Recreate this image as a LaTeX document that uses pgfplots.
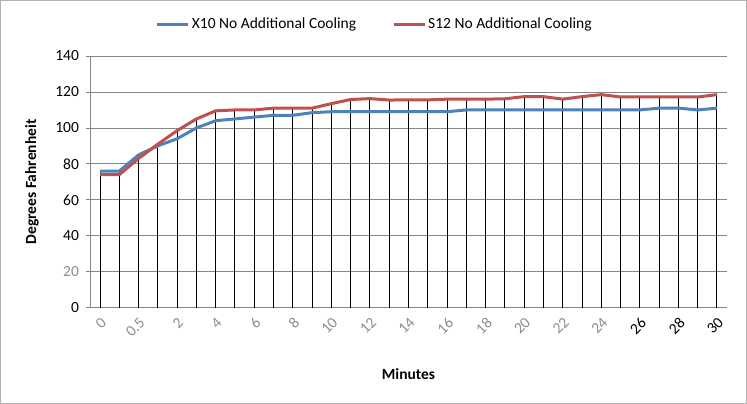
\documentclass[border=0pt]{standalone}
\usepackage{pgfplots}
\pgfplotsset{compat=1.18}
\usepackage{pgfplotstable}
\usepackage{fontspec}
\setmainfont{Carlito}
\definecolor{xblue}{HTML}{4F81BD}
\definecolor{sred}{HTML}{C0504D}
\definecolor{gridgray}{HTML}{868686}
\definecolor{lblgray}{HTML}{8C8C8C}
\newcommand\fs{\fontsize{15.5}{18}\selectfont}
\pgfplotstableread{
idx minute x10 s12
0 0 76 74
1 0.25 76 74
2 0.5 85 83
3 1 90 91
4 2 94 98.5
5 3 100 105
6 4 104 109.5
7 5 105 110
8 6 106 110
9 7 107 111
10 8 107 111
11 9 108.5 111
12 10 109 113.5
13 11 109 115.8
14 12 109 116.3
15 13 109 115.5
16 14 109 115.6
17 15 109 115.6
18 16 109 116
19 17 110 116
20 18 110 116
21 19 110 116.2
22 20 110 117.4
23 21 110 117.4
24 22 110 116
25 23 110 117.4
26 24 110 118.5
27 25 110 117.2
28 26 110 117.2
29 27 111 117.2
30 28 111 117.2
31 29 110 117.2
32 30 111 118.5
}\datatable
\begin{document}
\begin{tikzpicture}[x=1pt,y=1pt]
\useasboundingbox (0,0) rectangle (747,404);
\draw[gray!60, line width=1pt] (0.5,0.5) rectangle (746.5,403.5);
\begin{axis}[
  at={(90.4pt,96.3pt)}, anchor=south west,
  scale only axis, width=636.2pt, height=251.7pt,
  xmin=-0.5, xmax=32.5, ymin=0, ymax=140,
  axis x line=bottom, axis y line=left,
  axis line style={draw=gridgray, line width=0.8pt, -},
  ytick={0,20,...,140},
  yticklabels={0,{\textcolor{lblgray}{20}},40,60,80,100,120,140},
  ymajorgrids, grid style={gridgray, line width=0.8pt},
  xtick={0,2,...,32},
  xticklabels={0,0.5,2,4,6,8,10,12,14,16,18,20,22,24,{\textcolor{black}{26}},{\textcolor{black}{28}},{\textcolor{black}{30}}},
  x tick label style={rotate=45, anchor=north east, font=\fs, text=lblgray},
  y tick label style={font=\fs, xshift=-4pt},
  tick align=outside, major tick length=4pt,
  ytick style={draw=gridgray, line width=0.8pt}, xtick style={draw=none},
  xlabel={Minutes}, ylabel={Degrees Fahrenheit},
  xlabel style={at={(axis description cs:0.5,-0.263)}, anchor=center, font=\fs\bfseries},
  ylabel style={at={(axis description cs:-0.0918,0.5)}, anchor=center, font=\fs\bfseries},
  legend style={at={(0.447,1.127)}, anchor=center, draw=none, fill=none, font=\fs,
    /tikz/every even column/.append style={column sep=34pt}},
  legend columns=2, legend cell align=left,
  legend image code/.code={\draw[#1] (0pt,0pt) -- (31pt,0pt);},
  clip=false,
]
\addplot[black, line width=1pt, ycomb, forget plot] table[x=idx, y=x10] \datatable;
\addplot[black, line width=1pt, ycomb, forget plot] table[x=idx, y=s12] \datatable;
\addplot[xblue, line width=3pt] table[x=idx, y=x10] \datatable;
\addplot[sred, line width=3pt] table[x=idx, y=s12] \datatable;
\legend{X10 No Additional Cooling, S12 No Additional Cooling}
\end{axis}
\end{tikzpicture}
\end{document}
